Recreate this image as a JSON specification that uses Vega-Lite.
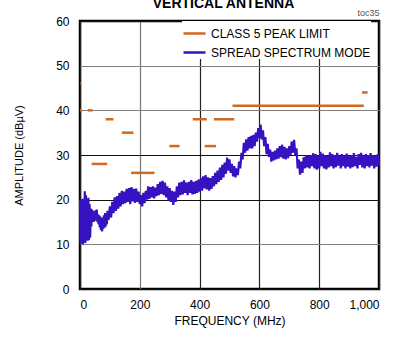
{
  "$schema": "https://vega.github.io/schema/vega-lite/v6.json",
  "width": 299,
  "height": 268,
  "autosize": "none",
  "padding": {"left": 80, "top": 21, "right": 14, "bottom": 52},
  "title": {"text": "VERTICAL ANTENNA", "fontSize": 14, "fontWeight": "bold", "font": "Liberation Sans", "anchor": "middle", "offset": 0, "dx": -6, "dy": 3, "color": "black"},
  "config": {
    "view": {"stroke": "black", "strokeWidth": 2.5},
    "font": "Liberation Sans",
    "axis": {"labelFont": "Liberation Sans", "titleFont": "Liberation Sans", "labelColor": "black", "titleColor": "black", "labelFontSize": 12, "titleFontSize": 12, "titleFontWeight": "normal", "domain": false, "ticks": false}
  },
  "datasets": {
    "spectrum": [
      {"f":0,"v":20},{"f":2,"v":10},{"f":4,"v":19.5},{"f":6,"v":10.5},{"f":8,"v":20.2},{"f":10,"v":10},{"f":12,"v":19},{"f":14,"v":10.5},{"f":16,"v":21.9},{"f":18,"v":10.3},
      {"f":20,"v":21},{"f":22,"v":11},{"f":24,"v":20},{"f":26,"v":10.8},{"f":28,"v":20.4},{"f":30,"v":11},{"f":32,"v":19},{"f":34,"v":11.5},{"f":36,"v":18},{"f":38,"v":14},
      {"f":40,"v":17.8},{"f":42,"v":15.2},{"f":44,"v":17.5},{"f":46,"v":15},{"f":48,"v":17.2},{"f":50,"v":15.3},{"f":52,"v":17.6},{"f":54,"v":15.5},{"f":56,"v":17.8},{"f":58,"v":15},
      {"f":60,"v":16.7},{"f":62,"v":14.5},{"f":64,"v":16.5},{"f":66,"v":13.8},{"f":68,"v":16.2},{"f":70,"v":13.2},{"f":72,"v":15.8},{"f":74,"v":12.9},{"f":76,"v":16},{"f":78,"v":13.5},
      {"f":80,"v":16.5},{"f":82,"v":13.7},{"f":84,"v":17},{"f":86,"v":14},{"f":88,"v":16.8},{"f":90,"v":14.5},{"f":92,"v":17.5},{"f":96,"v":15.5},{"f":100,"v":18.5},{"f":104,"v":16},
      {"f":108,"v":19.5},{"f":112,"v":17},{"f":116,"v":20.5},{"f":120,"v":17.5},{"f":124,"v":20.8},{"f":128,"v":18},{"f":132,"v":21.5},{"f":136,"v":18.5},{"f":140,"v":22},{"f":144,"v":19},
      {"f":148,"v":21.8},{"f":152,"v":19.2},{"f":156,"v":22.4},{"f":160,"v":19.5},{"f":164,"v":22.6},{"f":168,"v":19},{"f":172,"v":22.8},{"f":176,"v":19.6},{"f":180,"v":22.4},{"f":184,"v":19.3},
      {"f":188,"v":22.5},{"f":192,"v":19.5},{"f":196,"v":21.8},{"f":200,"v":19},{"f":204,"v":21},{"f":208,"v":18.5},{"f":212,"v":21.5},{"f":216,"v":19.2},{"f":220,"v":22},{"f":224,"v":20},
      {"f":228,"v":23},{"f":232,"v":20.2},{"f":236,"v":22.8},{"f":240,"v":20.5},{"f":244,"v":23},{"f":248,"v":20.3},{"f":252,"v":22.7},{"f":256,"v":20.8},{"f":260,"v":23.5},{"f":264,"v":21},
      {"f":268,"v":24},{"f":272,"v":21.3},{"f":276,"v":24.2},{"f":280,"v":21},{"f":284,"v":23.8},{"f":288,"v":20.5},{"f":292,"v":23},{"f":296,"v":19.8},{"f":300,"v":22.6},{"f":304,"v":19.5},
      {"f":308,"v":22},{"f":312,"v":18.8},{"f":316,"v":21.8},{"f":320,"v":19.5},{"f":324,"v":23},{"f":328,"v":20.5},{"f":332,"v":23.8},{"f":336,"v":21},{"f":340,"v":24},{"f":344,"v":21.2},
      {"f":348,"v":24.3},{"f":352,"v":21.5},{"f":356,"v":23.8},{"f":360,"v":21},{"f":364,"v":24},{"f":368,"v":21.5},{"f":372,"v":24.4},{"f":376,"v":21.2},{"f":380,"v":24},{"f":384,"v":21.3},
      {"f":388,"v":24.2},{"f":392,"v":21.5},{"f":396,"v":24.5},{"f":400,"v":21.8},{"f":404,"v":24.8},{"f":408,"v":22},{"f":412,"v":25.2},{"f":416,"v":22.5},{"f":420,"v":25.5},{"f":424,"v":22.3},
      {"f":428,"v":25},{"f":432,"v":22},{"f":436,"v":24.8},{"f":440,"v":22.4},{"f":444,"v":25.3},{"f":448,"v":23},{"f":452,"v":26},{"f":456,"v":23.5},{"f":460,"v":26.5},{"f":464,"v":24},
      {"f":468,"v":27.2},{"f":472,"v":24.4},{"f":476,"v":27.8},{"f":480,"v":25},{"f":484,"v":28.3},{"f":488,"v":25.8},{"f":492,"v":29.4},{"f":496,"v":26.5},{"f":500,"v":29},{"f":504,"v":26},
      {"f":508,"v":28},{"f":512,"v":25.2},{"f":516,"v":27.5},{"f":520,"v":25},{"f":524,"v":27},{"f":528,"v":25.5},{"f":532,"v":28.5},{"f":536,"v":27},{"f":540,"v":30.5},{"f":544,"v":29},
      {"f":548,"v":32.7},{"f":552,"v":30.5},{"f":556,"v":33.5},{"f":560,"v":31},{"f":564,"v":34},{"f":568,"v":31.5},{"f":572,"v":34.3},{"f":576,"v":31.5},{"f":580,"v":34.5},{"f":584,"v":32},
      {"f":588,"v":35},{"f":592,"v":33},{"f":596,"v":36},{"f":600,"v":33.8},{"f":604,"v":36.8},{"f":608,"v":33.5},{"f":612,"v":35.5},{"f":616,"v":32},{"f":620,"v":34},{"f":624,"v":30.2},
      {"f":628,"v":32.5},{"f":632,"v":29.6},{"f":636,"v":31.2},{"f":640,"v":28.5},{"f":644,"v":30.7},{"f":648,"v":28.8},{"f":652,"v":31},{"f":656,"v":29},{"f":660,"v":31.5},{"f":664,"v":29.2},
      {"f":668,"v":32},{"f":672,"v":29.5},{"f":676,"v":32.3},{"f":680,"v":29.2},{"f":684,"v":31.8},{"f":688,"v":29},{"f":692,"v":31.5},{"f":696,"v":29.3},{"f":700,"v":32},{"f":704,"v":30},
      {"f":708,"v":33},{"f":712,"v":30.5},{"f":716,"v":33.4},{"f":720,"v":30},{"f":724,"v":31.5},{"f":728,"v":27},{"f":732,"v":29},{"f":736,"v":25.6},{"f":740,"v":28.5},{"f":744,"v":26},
      {"f":748,"v":29.5},{"f":752,"v":27},{"f":756,"v":30},{"f":760,"v":27.2},{"f":764,"v":29.8},{"f":768,"v":27},{"f":772,"v":30},{"f":776,"v":27.5},{"f":780,"v":30.4},{"f":784,"v":27},
      {"f":788,"v":30.2},{"f":792,"v":26.7},{"f":796,"v":29.8},{"f":800,"v":27},{"f":804,"v":30.7},{"f":808,"v":27.5},{"f":812,"v":30.3},{"f":816,"v":27},{"f":820,"v":30},{"f":824,"v":26.8},
      {"f":828,"v":29.8},{"f":832,"v":27.2},{"f":836,"v":30.6},{"f":840,"v":27.5},{"f":844,"v":30.2},{"f":848,"v":27},{"f":852,"v":30},{"f":856,"v":27.3},{"f":860,"v":30.5},{"f":864,"v":27.6},
      {"f":868,"v":29.8},{"f":872,"v":27},{"f":876,"v":30.2},{"f":880,"v":27.5},{"f":884,"v":29.9},{"f":888,"v":27},{"f":892,"v":30.3},{"f":896,"v":27.4},{"f":900,"v":29.8},{"f":904,"v":27},
      {"f":908,"v":30},{"f":912,"v":27.3},{"f":916,"v":30.4},{"f":920,"v":27.5},{"f":924,"v":29.6},{"f":928,"v":27},{"f":932,"v":30.2},{"f":936,"v":27.8},{"f":940,"v":30.5},{"f":944,"v":27.2},
      {"f":948,"v":29.9},{"f":952,"v":27},{"f":956,"v":30.2},{"f":960,"v":27.5},{"f":964,"v":30},{"f":968,"v":27.2},{"f":972,"v":30.4},{"f":976,"v":27.6},{"f":980,"v":30},{"f":984,"v":27},
      {"f":988,"v":29.8},{"f":992,"v":27.4},{"f":996,"v":30.2},{"f":1000,"v":27.8}
    ],
    "limits": [
      {"f1":0,"f2":2,"limit":46},
      {"f1":0,"f2":6,"limit":40},
      {"f1":26,"f2":42,"limit":40},
      {"f1":39,"f2":91,"limit":28},
      {"f1":86,"f2":112,"limit":38},
      {"f1":140,"f2":179,"limit":35},
      {"f1":171,"f2":249,"limit":26},
      {"f1":299,"f2":333,"limit":32},
      {"f1":377,"f2":424,"limit":38},
      {"f1":417,"f2":455,"limit":32},
      {"f1":448,"f2":516,"limit":38},
      {"f1":510,"f2":949,"limit":41},
      {"f1":943,"f2":962,"limit":44}
    ]
  },
  "layer": [
    {
      "data": {"name": "spectrum"},
      "mark": {"type": "line", "strokeWidth": 2.2},
      "encoding": {
        "x": {"field": "f", "type": "quantitative", "scale": {"domain": [0, 1000], "nice": false},
          "axis": {"orient": "bottom", "values": [0, 200, 400, 600, 800, 1000], "format": ",d", "title": "FREQUENCY (MHz)", "labelPadding": 10, "titlePadding": 5,
            "grid": true, "gridWidth": 1.2, "gridColor": {"condition": {"test": "datum.value === 200", "value": "#777777"}, "value": "#222222"}}},
        "y": {"field": "v", "type": "quantitative", "scale": {"domain": [0, 60], "nice": false},
          "axis": {"values": [0, 10, 20, 30, 40, 50, 60], "title": "AMPLITUDE (dBµV)", "titleFontSize": 11, "labelPadding": 11, "titlePadding": 31,
            "grid": true, "gridWidth": 1.2, "gridColor": {"condition": {"test": "datum.value === 10 || datum.value === 40 || datum.value === 50", "value": "#808080"}, "value": "#111111"}}},
        "color": {"datum": "SPREAD SPECTRUM MODE", "type": "nominal",
          "scale": {"domain": ["CLASS 5 PEAK LIMIT", "SPREAD SPECTRUM MODE"], "range": ["#D2691E", "#3612C0"]},
          "legend": {"orient": "none", "legendX": 102, "legendY": 0, "title": null, "symbolType": "stroke", "symbolSize": 484, "symbolStrokeWidth": 2.5,
            "labelFontSize": 12, "labelFont": "Liberation Sans", "labelColor": "black", "labelOffset": 4, "fillColor": "white", "padding": 0, "rowPadding": 0}}
      }
    },
    {
      "data": {"name": "limits"},
      "mark": {"type": "rule", "strokeWidth": 2.5},
      "encoding": {
        "x": {"field": "f1", "type": "quantitative",
          "axis": {"orient": "top", "title": "toc35", "titleAnchor": "end", "titleFontSize": 9, "titleColor": "#555555", "titlePadding": 4, "labels": false, "ticks": false, "domain": false, "grid": false}},
        "x2": {"field": "f2"},
        "y": {"field": "limit", "type": "quantitative"},
        "color": {"datum": "CLASS 5 PEAK LIMIT", "type": "nominal"}
      }
    }
  ],
  "resolve": {"axis": {"x": "independent"}}
}
